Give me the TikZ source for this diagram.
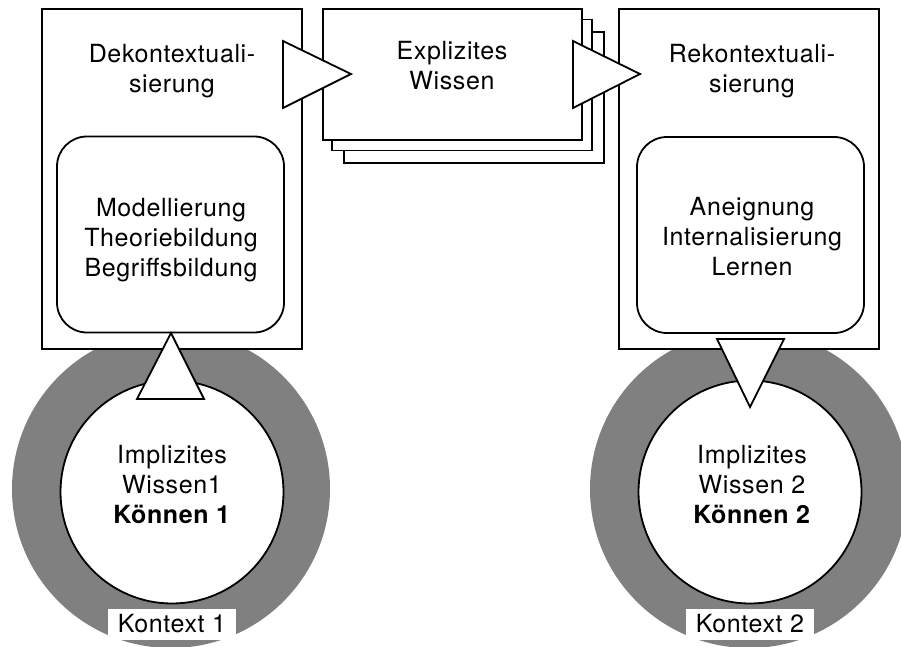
\documentclass[tikz,border=0pt]{standalone}
\usepackage{fontspec}
\setmainfont{TeX Gyre Heros}[LetterSpace=2.5]
\begin{document}
\begin{tikzpicture}[x=1pt,y=-1pt,
  lw/.style={line width=1.8pt},
  bigbox/.style={draw, lw, fill=white, rectangle, inner sep=0pt, minimum width=260pt, minimum height=340pt},
  roundbox/.style={draw, lw, fill=white, rectangle, rounded corners=30pt, inner sep=0pt, minimum width=227pt, minimum height=196pt},
  sheet/.style={draw, lw, fill=white, rectangle, inner sep=0pt, minimum width=260pt, minimum height=131pt},
  ring/.style={fill=black!50, circle, inner sep=0pt, minimum size=318pt},
  inner/.style={draw, lw, fill=white, circle, inner sep=0pt, minimum size=223pt},
  tri/.style={draw, lw, fill=white, line join=miter},
  txt/.style={font=\fontsize{25}{30}\selectfont, align=center, inner sep=0pt},
  lbl/.style={fill=white, font=\fontsize{25}{30}\selectfont, inner sep=0pt, minimum width=128pt, minimum height=31pt}
]
\useasboundingbox (0,0) rectangle (901,647);
\fill[white] (0,0) rectangle (901,647);
\begin{scope}
\clip (0,0) rectangle (901,647);
% context rings
\node[ring] (ringL) at (171,489) {};
\node[ring] (ringR) at (749,489) {};
% implicit knowledge circles
\node[inner] (circL) at (172,492) {};
\node[inner] (circR) at (750,492) {};
\node[txt] (implL) at (172,484) {Implizites\\Wissen1\\\textbf{Können 1}};
\node[txt] (implR) at (752,484) {Implizites\\Wissen 2\\\textbf{Können 2}};
\node[lbl] (kontL) at (172,624) {Kontext 1};
\node[lbl] (kontR) at (750,624) {Kontext 2};
% big boxes
\node[bigbox] (boxL) at (172,179) {};
\node[bigbox] (boxR) at (749,179) {};
\node[txt] (dek) at (172,71) {Dekontextuali-\\sierung};
\node[txt] (rek) at (752,71) {Rekontextuali-\\sierung};
% rounded inner boxes
\node[roundbox] (rbL) at (170.5,234.5) {};
\node[roundbox] (rbR) at (750.5,235) {};
\node[txt] (modL) at (171,240) {Modellierung\\Theoriebildung\\Begriffsbildung};
\node[txt] (aneR) at (752,237) {Aneignung\\Internalisierung\\Lernen};
% stacked sheets
\node[sheet] (sheet3) at (474,97.5) {};
\node[sheet] (sheet2) at (462,85) {};
\node[sheet, minimum width=259pt] (sheet1) at (452.5,74.5) {};
\node[txt] (expl) at (452,66) {Explizites\\Wissen};
% arrow triangles
\draw[tri] (283,41) -- (351,74) -- (283,108) -- cycle;
\draw[tri] (573,41) -- (640,74) -- (573,108) -- cycle;
\draw[tri] (137,399) -- (171,333) -- (204,399) -- cycle;
\draw[tri] (717,339) -- (750,407) -- (784,339) -- cycle;
\end{scope}
\end{tikzpicture}
\end{document}
